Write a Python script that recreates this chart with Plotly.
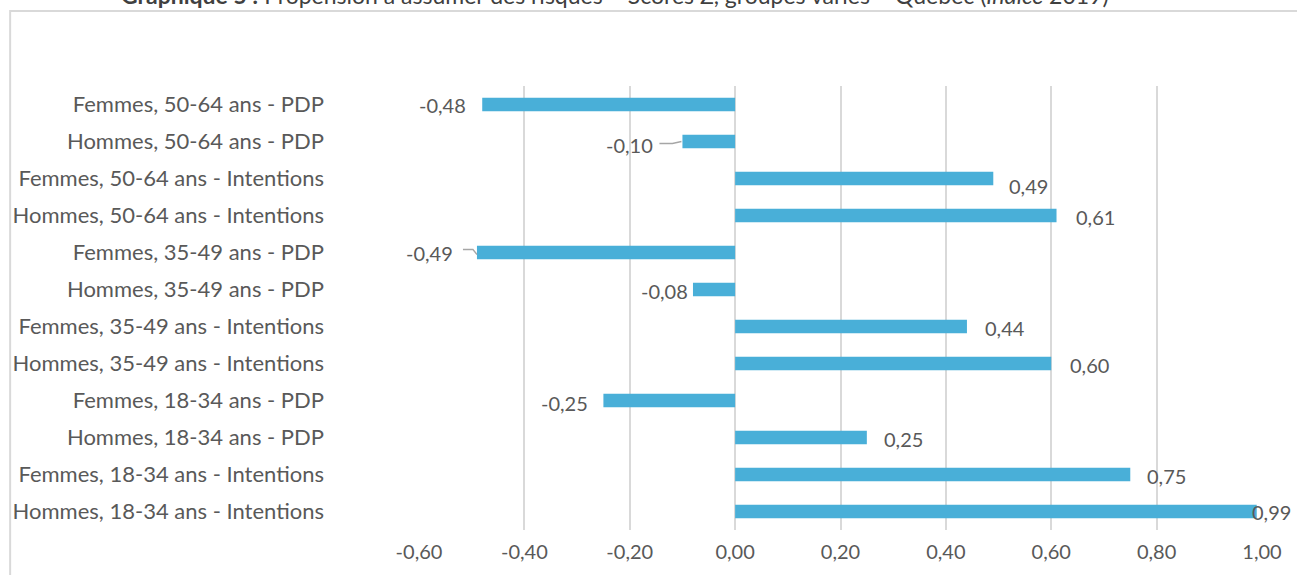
import plotly.graph_objects as go

# Category labels, top to bottom
categories = [
    "Femmes, 50-64 ans - PDP",
    "Hommes, 50-64 ans - PDP",
    "Femmes, 50-64 ans - Intentions",
    "Hommes, 50-64 ans - Intentions",
    "Femmes, 35-49 ans - PDP",
    "Hommes, 35-49 ans - PDP",
    "Femmes, 35-49 ans - Intentions",
    "Hommes, 35-49 ans - Intentions",
    "Femmes, 18-34 ans - PDP",
    "Hommes, 18-34 ans - PDP",
    "Femmes, 18-34 ans - Intentions",
    "Hommes, 18-34 ans - Intentions",
]
scores = [-0.48, -0.10, 0.49, 0.61, -0.49, -0.08, 0.44, 0.60, -0.25, 0.25, 0.75, 0.99]

x_ticks = [-0.6, -0.4, -0.2, 0.0, 0.2, 0.4, 0.6, 0.8, 1.0]
x_tick_labels = ["-0,60", "-0,40", "-0,20", "0,00", "0,20", "0,40", "0,60", "0,80", "1,00"]

# Pixel nudges for the data labels (horizontal, vertical)
label_dx = [-14, -27, 14, 17, -22, -3, 16, 17, -13, 15, 15, -7]
label_dy = [0, -3, -7, -1, 0, -1, -1, -1, -2, -1, -1, 0]

TEXT = "#595959"
TITLE = "#404040"
BAR = "#49AFD8"
GRID = "#d9d9d9"
FONT = "Lato, 'Open Sans', sans-serif"

fig = go.Figure(
    go.Bar(
        x=scores,
        y=categories,
        orientation="h",
        marker=dict(color=BAR, line=dict(width=0)),
        width=0.36,
        hoverinfo="skip",
    )
)

def fmt(v):
    return f"{v:.2f}".replace(".", ",")

annotations = []
for cat, v, dx, dy in zip(categories, scores, label_dx, label_dy):
    annotations.append(dict(
        x=v, y=cat, xref="x", yref="y",
        text=fmt(v), showarrow=False,
        xanchor="left" if v >= 0 else "right",
        xshift=dx, yshift=dy,
        font=dict(family=FONT, size=20, color=TEXT),
    ))

# Chart title (partly above the page)
annotations.append(dict(
    x=0.2325, y=1.205, xref="paper", yref="paper",
    text="<b>Graphique 5 :</b> Propension à assumer des risques – Scores Z, groupes variés – Québec (<i>Indice</i> 2019)",
    showarrow=False, xanchor="center", yanchor="middle",
    font=dict(family=FONT, size=23, color=TITLE),
))

shapes = [
    # Chart frame
    dict(type="rect", xref="paper", yref="paper",
         x0=-0.485, x1=1.2, y0=-0.3, y1=1.169,
         line=dict(color=GRID, width=2), fillcolor="rgba(0,0,0,0)", layer="below"),
    # Leader line for -0,10
    dict(type="path", xref="x", yref="y", xsizemode="pixel", ysizemode="pixel",
         xanchor=-0.10, yanchor=categories[1],
         path="M-23,-2 L-10,-2 L-1,0",
         line=dict(color="#a6a6a6", width=1.3)),
    # Leader line for -0,49
    dict(type="path", xref="x", yref="y", xsizemode="pixel", ysizemode="pixel",
         xanchor=-0.49, yanchor=categories[4],
         path="M-14,3 L-4,3 L0,-2",
         line=dict(color="#a6a6a6", width=1.3)),
]

fig.update_layout(
    width=1297, height=575,
    margin=dict(l=419, r=35, t=86, b=45),
    paper_bgcolor="white", plot_bgcolor="white",
    showlegend=False,
    bargap=0.64,
    annotations=annotations,
    shapes=shapes,
    font=dict(family=FONT, size=20, color=TEXT),
    xaxis=dict(
        range=[-0.6, 1.0],
        tickvals=x_ticks, ticktext=x_tick_labels,
        showgrid=True, gridcolor=GRID, gridwidth=1.5,
        zeroline=False, showline=False, ticks="",
        ticklabelstandoff=8,
        tickfont=dict(family=FONT, size=20, color=TEXT),
    ),
    yaxis=dict(
        autorange="reversed",
        showgrid=False, zeroline=False, showline=False, ticks="",
        ticklabelstandoff=94,
        tickfont=dict(family=FONT, size=22, color=TEXT),
    ),
)

fig.write_html("out.html")
